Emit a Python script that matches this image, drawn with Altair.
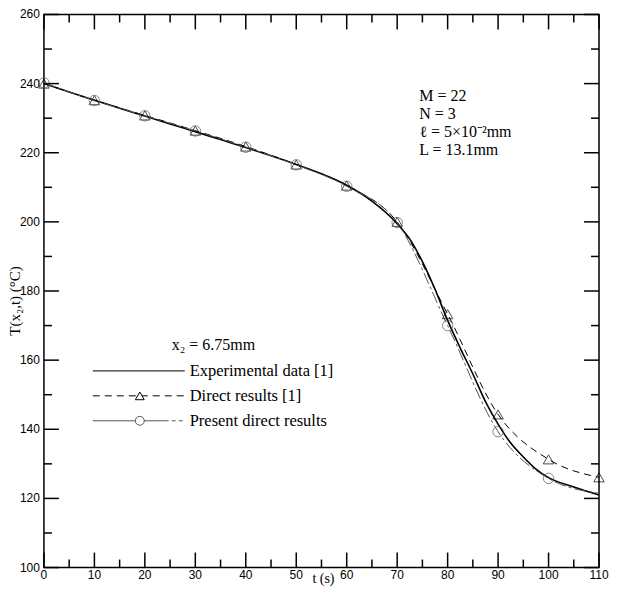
import altair as alt
import pandas as pd

# ---------------- data ----------------
t_exp = [0, 5, 10, 15, 20, 25, 30, 35, 40, 45, 50, 55, 60, 65, 70, 72.5, 75, 77.5,
         80, 82.5, 85, 87.5, 90, 92.5, 95, 97.5, 100, 105, 110]
T_exp = [240.0, 237.6, 235.2, 232.9, 230.6, 228.3, 226.1, 223.8, 221.5, 219.1, 216.6,
         213.9, 210.6, 206.0, 199.5, 195.0, 188.5, 180.5, 171.5, 163.5, 156.0, 148.0,
         141.5, 136.0, 132.0, 128.5, 126.0, 123.3, 121.0]

t_direct = [0, 10, 20, 30, 40, 50, 60, 70, 80, 90, 100, 110]
T_direct = [240.0, 235.2, 230.8, 226.4, 221.8, 216.6, 210.5, 200.0, 173.3, 144.3, 131.3, 126.1]

t_present = [0, 10, 20, 30, 40, 50, 60, 70, 80, 90, 100, 110]
T_present = [240.2, 235.1, 230.7, 226.3, 221.6, 216.5, 210.3, 199.8, 170.0, 139.3, 125.8, 121.5]
t_present_mk = [0, 10, 20, 30, 40, 50, 60, 70, 80, 90, 100]
T_present_mk = [240.2, 235.1, 230.7, 226.3, 221.6, 216.5, 210.3, 199.8, 170.0, 139.3, 125.8]

x_major = [0, 10, 20, 30, 40, 50, 60, 70, 80, 90, 100, 110]
x_minor = [5, 15, 25, 35, 45, 55, 65, 75, 85, 95, 105]
y_major = [100, 120, 140, 160, 180, 200, 220, 240, 260]
y_minor = [110, 130, 150, 170, 190, 210, 230, 250]

x_title = "t (s)"
y_title = "T(x\u2082,t) (\u00b0C)"
annot = ["M = 22", "N = 3", "\u2113 = 5\u00d710\u207b\u00b2mm", "L = 13.1mm"]
legend_labels = ["Experimental data [1]", "Direct results [1]", "Present direct results"]
legend_title = "x\u2082 = 6.75mm"

# ---------------- layout ----------------
W, H = 556, 554
MAJ, MIN = 15, 8
serif = "Liberation Serif"
sans = "Liberation Sans"

xs = alt.Scale(domain=[0, 110], nice=False, zero=False)
ys = alt.Scale(domain=[100, 260], nice=False, zero=False)

def X(f):
    return alt.X(f, scale=xs, axis=None)

def Y(f):
    return alt.Y(f, scale=ys, axis=None)

df_exp = pd.DataFrame({"t": t_exp, "T": T_exp})
df_dir = pd.DataFrame({"t": t_direct, "T": T_direct})
df_pre = pd.DataFrame({"t": t_present, "T": T_present})
df_pre_mk = pd.DataFrame({"t": t_present_mk, "T": T_present_mk})

exp_line = alt.Chart(df_exp).mark_line(color="black", strokeWidth=1.6,
                                       interpolate="monotone").encode(x=X("t:Q"), y=Y("T:Q"))
dir_line = alt.Chart(df_dir).mark_line(color="black", strokeWidth=1, strokeDash=[7, 5],
                                       interpolate="monotone").encode(x=X("t:Q"), y=Y("T:Q"))
dir_pts = alt.Chart(df_dir).mark_point(shape="triangle-up", filled=False, color="black",
                                       size=110, strokeWidth=1).encode(x=X("t:Q"), y=Y("T:Q"))
pre_line = alt.Chart(df_pre).mark_line(color="#555555", strokeWidth=1, strokeDash=[12, 3, 3, 3],
                                       interpolate="monotone").encode(x=X("t:Q"), y=Y("T:Q"))
pre_pts = alt.Chart(df_pre_mk).mark_point(shape="circle", filled=False, color="#555555",
                                          size=110, strokeWidth=1).encode(x=X("t:Q"), y=Y("T:Q"))

# ---------------- inward ticks on all four sides ----------------
def xticks(vals, length):
    d = pd.DataFrame({"v": vals})
    bot = alt.Chart(d).mark_rule(color="black", strokeWidth=1.5).encode(
        x=X("v:Q"), y=alt.value(H), y2=alt.value(H - length))
    top = alt.Chart(d).mark_rule(color="black", strokeWidth=1.5).encode(
        x=X("v:Q"), y=alt.value(0), y2=alt.value(length))
    return [bot, top]

def yticks(vals, length):
    d = pd.DataFrame({"v": vals})
    left = alt.Chart(d).mark_rule(color="black", strokeWidth=1.5).encode(
        y=Y("v:Q"), x=alt.value(0), x2=alt.value(length))
    right = alt.Chart(d).mark_rule(color="black", strokeWidth=1.5).encode(
        y=Y("v:Q"), x=alt.value(W), x2=alt.value(W - length))
    return [left, right]

ticks = xticks(x_major, MAJ) + xticks(x_minor, MIN) + yticks(y_major, MAJ) + yticks(y_minor, MIN)

# ---------------- tick labels and axis titles ----------------
xl = alt.Chart(pd.DataFrame({"v": x_major})).mark_text(
    font=sans, fontSize=12, color="black", align="center", baseline="top").encode(
    x=X("v:Q"), y=alt.value(H + 2), text=alt.Text("v:Q", format="d"))
yl = alt.Chart(pd.DataFrame({"v": y_major})).mark_text(
    font=sans, fontSize=12, color="black", align="right", baseline="middle").encode(
    y=Y("v:Q"), x=alt.value(-4), text=alt.Text("v:Q", format="d"))

one = pd.DataFrame({"a": [0]})

xt = alt.Chart(one).mark_text(font=serif, fontSize=14, color="black", align="center",
                              baseline="top").encode(
    x=alt.value(W / 2 + 2), y=alt.value(H + 4), text=alt.value(x_title))
yt = alt.Chart(one).mark_text(font=serif, fontSize=15, color="black", align="center",
                              baseline="middle", angle=270).encode(
    x=alt.value(-29), y=alt.value(H / 2 + 10), text=alt.value(y_title))

def label(txt, px, py, size=16):
    return alt.Chart(one).mark_text(align="left", baseline="middle", font=serif, fontSize=size,
                                    color="black").encode(
        x=alt.value(px), y=alt.value(py), text=alt.value(txt))

# ---------------- annotation text ----------------
ANN_X = 376
ANN_Y = [82, 100, 118, 136]
ann = [label(s, ANN_X, yy) for s, yy in zip(annot, ANN_Y)]

# ---------------- hand-drawn legend ----------------
LX0, LX1, LMID = 49, 141, 96
TX = 146
ROWS = [357, 382, 407]

leg = [label(legend_title, 128, 331)]
leg += [label(s, TX, yy, 16.5) for s, yy in zip(legend_labels, ROWS)]
leg.append(alt.Chart(one).mark_rule(color="#333333", strokeWidth=1.3).encode(
    x=alt.value(LX0), x2=alt.value(LX1), y=alt.value(ROWS[0])))
leg.append(alt.Chart(one).mark_rule(color="black", strokeWidth=1, strokeDash=[7, 5]).encode(
    x=alt.value(LX0), x2=alt.value(LX1), y=alt.value(ROWS[1])))
leg.append(alt.Chart(one).mark_point(shape="triangle-up", filled=True, size=80,
                                     stroke="black", strokeWidth=1, fill="white",
                                     fillOpacity=1).encode(
    x=alt.value(LMID), y=alt.value(ROWS[1])))
leg.append(alt.Chart(one).mark_rule(color="#555555", strokeWidth=1).encode(
    x=alt.value(LX0), x2=alt.value(LX0 + 72), y=alt.value(ROWS[2])))
leg.append(alt.Chart(one).mark_rule(color="#555555", strokeWidth=1, strokeDash=[4, 3]).encode(
    x=alt.value(LX0 + 72), x2=alt.value(LX1), y=alt.value(ROWS[2])))
leg.append(alt.Chart(one).mark_point(shape="circle", filled=True, size=80,
                                     stroke="#555555", strokeWidth=1, fill="white",
                                     fillOpacity=1).encode(
    x=alt.value(LMID), y=alt.value(ROWS[2])))

chart = alt.layer(exp_line, dir_line, pre_line, dir_pts, pre_pts, *ticks, xl, yl, xt, yt,
                  *ann, *leg).properties(
    width=W, height=H,
    autosize=alt.AutoSizeParams(type="none"),
    padding={"left": 36, "top": 6, "right": 10, "bottom": 20},
    background="white",
).configure_view(stroke="black", strokeWidth=1.5)

chart.save("out.html", embed_options={"renderer": "svg", "actions": False})
